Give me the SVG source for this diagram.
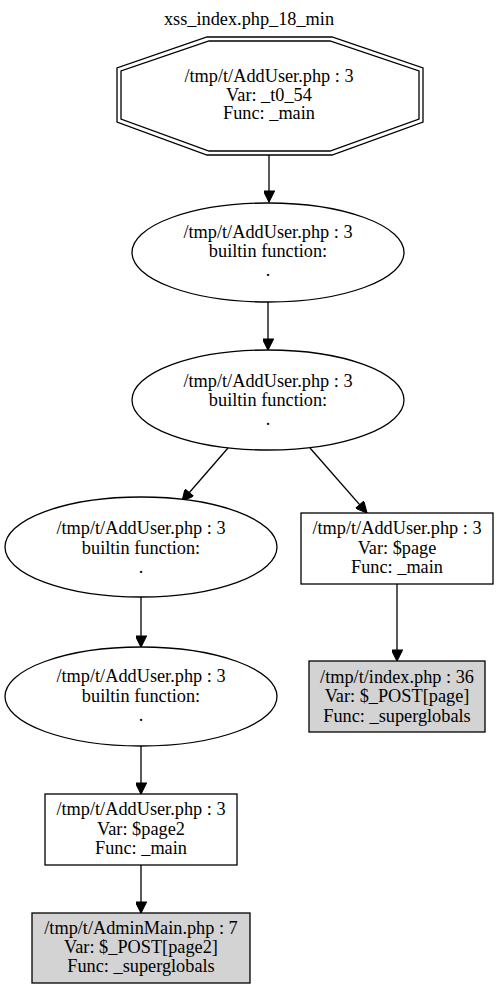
<svg xmlns="http://www.w3.org/2000/svg" width="498" height="989" viewBox="0 0 498 989">
<defs>
<marker id="ah" viewBox="0 0 10 10" refX="10" refY="5" markerWidth="13" markerHeight="11" markerUnits="userSpaceOnUse" orient="auto">
<path d="M0,0 L10,5 L0,10 z" fill="#000" stroke="#000" stroke-width="1"/>
</marker>
</defs>
<style>
text{font-family:"Liberation Serif","Times New Roman",serif;font-size:18.3px;text-anchor:middle;fill:#000}
.n{fill:#fff;stroke:#000;stroke-width:1.3}
.g{fill:#d3d3d3;stroke:#000;stroke-width:1.3}
.e{stroke:#000;stroke-width:1.3;fill:none;marker-end:url(#ah)}
</style>
<rect width="498" height="989" fill="#fff"/>
<text x="249" y="25">xss_index.php_18_min</text>
<g id="connectors">
<line class="e" x1="269" y1="155" x2="269" y2="202"/>
<line class="e" x1="268" y1="302" x2="268" y2="350"/>
<line class="e" x1="228" y1="448" x2="182" y2="501"/>
<line class="e" x1="310" y1="448" x2="367" y2="513"/>
<line class="e" x1="141" y1="597" x2="141" y2="647"/>
<line class="e" x1="141" y1="746" x2="141" y2="794"/>
<line class="e" x1="141" y1="865" x2="141" y2="913"/>
<line class="e" x1="397" y1="584" x2="397" y2="661"/>
</g>
<g id="n0">
<polygon class="n" points="207,37 332,37 423,68 423,122 332,155 207,155 117,122 117,68"/>
<polygon class="n" points="209,41 330,41 419,71 419,119 330,151 209,151 121,119 121,71"/>
<text x="269" y="82">/tmp/t/AddUser.php : 3</text>
<text x="269" y="100.5">Var: _t0_54</text>
<text x="269" y="119">Func: _main</text>
</g>
<g id="n1">
<ellipse class="n" cx="268" cy="252.5" rx="136" ry="49.5"/>
<text x="268" y="238">/tmp/t/AddUser.php : 3</text>
<text x="268" y="257">builtin function:</text>
<text x="268" y="276">.</text>
</g>
<g id="n2">
<ellipse class="n" cx="268" cy="400" rx="136" ry="50"/>
<text x="268" y="387">/tmp/t/AddUser.php : 3</text>
<text x="268" y="406">builtin function:</text>
<text x="268" y="425">.</text>
</g>
<g id="n3">
<ellipse class="n" cx="141" cy="547" rx="136" ry="50"/>
<text x="141" y="534">/tmp/t/AddUser.php : 3</text>
<text x="141" y="553.5">builtin function:</text>
<text x="141" y="573">.</text>
</g>
<g id="n4">
<rect class="n" x="301" y="513" width="192" height="71"/>
<text x="397" y="534">/tmp/t/AddUser.php : 3</text>
<text x="397" y="553.5">Var: $page</text>
<text x="397" y="573">Func: _main</text>
</g>
<g id="n5">
<ellipse class="n" cx="141" cy="696.5" rx="136" ry="49.5"/>
<text x="141" y="682">/tmp/t/AddUser.php : 3</text>
<text x="141" y="701.5">builtin function:</text>
<text x="141" y="721">.</text>
</g>
<g id="n6">
<rect class="g" x="309" y="661" width="176" height="71"/>
<text x="397" y="683">/tmp/t/index.php : 36</text>
<text x="397" y="702">Var: $_POST[page]</text>
<text x="397" y="721.5">Func: _superglobals</text>
</g>
<g id="n7">
<rect class="n" x="45" y="794" width="192" height="71"/>
<text x="141" y="815">/tmp/t/AddUser.php : 3</text>
<text x="141" y="834.5">Var: $page2</text>
<text x="141" y="854">Func: _main</text>
</g>
<g id="n8">
<rect class="g" x="32" y="913" width="218" height="70"/>
<text x="141" y="934">/tmp/t/AdminMain.php : 7</text>
<text x="141" y="953">Var: $_POST[page2]</text>
<text x="141" y="972">Func: _superglobals</text>
</g>
</svg>
